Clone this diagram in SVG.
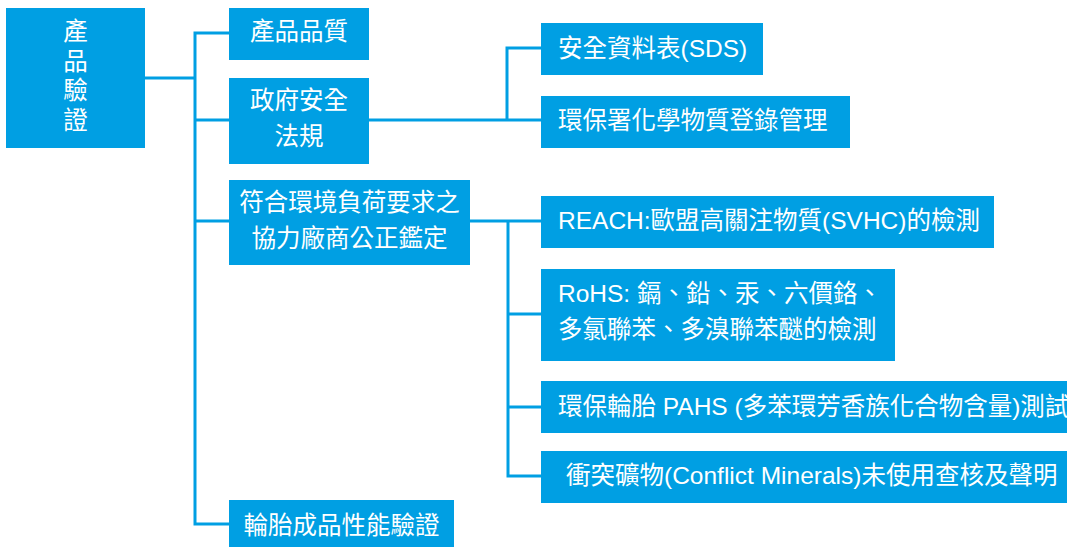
<svg xmlns="http://www.w3.org/2000/svg" width="1067" height="547" viewBox="0 0 1067 547">
<style>
.box{fill:#009FE3}
.t{fill:#fff;font-family:"Liberation Sans","Noto Sans CJK TC",sans-serif;font-size:24.5px}
.c{text-anchor:middle}
.ln{stroke:#009FE3;stroke-width:3;fill:none;stroke-linecap:square}
</style>
<rect width="1067" height="547" fill="#fff"/>
<g id="connectors">
<path class="ln" d="M145,78 H195 M195,33 V524 M195,33 H229 M195,120 H229 M195,221 H229 M195,524 H229"/>
<path class="ln" d="M369,120 H541 M507,48 V120 M507,48 H541"/>
<path class="ln" d="M470,221 H541 M508,221 V476 M508,314 H541 M508,407 H541 M508,476 H541"/>
</g>
<g id="root">
<rect class="box" x="6" y="8" width="139" height="140"/>
<text class="t c" x="75.5" y="40">產</text>
<text class="t c" x="75.5" y="69.5">品</text>
<text class="t c" x="75.5" y="99">驗</text>
<text class="t c" x="75.5" y="128.5">證</text>
</g>
<g id="quality">
<rect class="box" x="229" y="8" width="140" height="52"/>
<text class="t c" x="299" y="40">產品品質</text>
</g>
<g id="gov">
<rect class="box" x="229" y="78" width="140" height="86"/>
<text class="t c" x="299" y="108.5">政府安全</text>
<text class="t c" x="299" y="145">法規</text>
</g>
<g id="env">
<rect class="box" x="229" y="180" width="241" height="85"/>
<text class="t c" x="349.5" y="210.5">符合環境負荷要求之</text>
<text class="t c" x="349.5" y="247">協力廠商公正鑑定</text>
</g>
<g id="tire">
<rect class="box" x="229" y="500" width="225" height="47"/>
<text class="t c" x="341.5" y="533.5">輪胎成品性能驗證</text>
</g>
<g id="sds">
<rect class="box" x="541" y="23" width="222" height="52"/>
<text class="t" x="558" y="56.8">安全資料表(SDS)</text>
</g>
<g id="epa">
<rect class="box" x="541" y="96" width="309" height="52"/>
<text class="t" x="558" y="128.5">環保署化學物質登錄管理</text>
</g>
<g id="reach">
<rect class="box" x="541" y="196" width="453" height="52"/>
<text class="t" x="558" y="228.5">REACH:歐盟高關注物質(SVHC)的檢測</text>
</g>
<g id="rohs">
<rect class="box" x="541" y="269" width="354" height="92"/>
<text class="t" x="558" y="301.8">RoHS: 鎘、鉛、汞、六價鉻、</text>
<text class="t" x="558" y="338">多氯聯苯、多溴聯苯醚的檢測</text>
</g>
<g id="pahs">
<rect class="box" x="541" y="381" width="530" height="52"/>
<text class="t" x="558" y="415">環保輪胎 PAHS (多苯環芳香族化合物含量)測試</text>
</g>
<g id="conflict">
<rect class="box" x="541" y="451" width="530" height="52"/>
<text class="t" x="566" y="483.5">衝突礦物(Conflict Minerals)未使用查核及聲明</text>
</g>
</svg>
